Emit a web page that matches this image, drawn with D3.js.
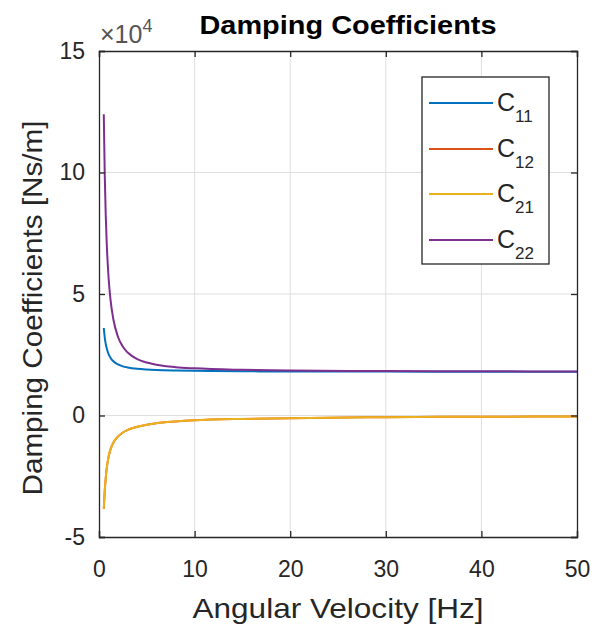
<!DOCTYPE html>
<html>
<head>
<meta charset="utf-8">
<script src="https://cdn.jsdelivr.net/npm/d3@7"></script>
<style>
  html, body { margin: 0; padding: 0; background: #fff; }
  svg { display: block; font-family: "Liberation Sans", Arial, Helvetica, sans-serif; }
</style>
</head>
<body>
<svg id="chart" width="595" height="628"></svg>
<script>
// ---- data (values in Ns/m) ----
const freq = [0.5, 0.6, 0.7, 0.8, 1, 1.2, 1.5, 2, 2.5, 3, 4, 5, 6, 8, 10, 15, 20, 30, 40, 50];
const c11 = [36000, 32200, 29600, 27800, 25300, 23800, 22300, 21000, 20200, 19750, 19200, 18900, 18700, 18500, 18400, 18200, 18100, 18100, 18000, 18000];
const c12 = [-38500, -31000, -26000, -22000, -17000, -14000, -11200, -8600, -7000, -5900, -4600, -3800, -3200, -2500, -2000, -1400, -1100, -700, -500, -400];
const c21 = [-38500, -31000, -26000, -22000, -17000, -14000, -11200, -8600, -7000, -5900, -4600, -3800, -3200, -2500, -2000, -1400, -1100, -700, -500, -400];
const c22 = [124000, 99300, 83100, 71700, 56800, 47800, 39600, 32200, 28300, 25900, 23200, 21800, 20900, 19900, 19400, 18800, 18500, 18300, 18200, 18100];
const seriesNames = ["11", "12", "21", "22"];
const seriesColors = ["#0072BD", "#D95319", "#EDB120", "#7E2F8E"];
const xTicks = [0, 10, 20, 30, 40, 50];
const yTicks = [-50000, 0, 50000, 100000, 150000];
const titleText = "Damping Coefficients";
const xLabel = "Angular Velocity [Hz]";
const yLabel = "Damping Coefficients [Ns/m]";

(function () {
const series = [c11, c12, c21, c22];

const svg = d3.select("#chart");
const L = 99, R = 577, T = 51, B = 537;
const x = d3.scaleLinear().domain([0, 50]).range([L, R]);
const y = d3.scaleLinear().domain([-50000, 150000]).range([B, T]);
const textCol = "#262626";

// grid
const g = svg.append("g");
g.selectAll("line.vg").data(xTicks.slice(1, -1)).join("line")
  .attr("x1", d => x(d)).attr("x2", d => x(d)).attr("y1", T).attr("y2", B)
  .attr("stroke", "#dfdfdf").attr("stroke-width", 1);
g.selectAll("line.hg").data(yTicks.slice(1, -1)).join("line")
  .attr("y1", d => y(d)).attr("y2", d => y(d)).attr("x1", L).attr("x2", R)
  .attr("stroke", "#dfdfdf").attr("stroke-width", 1);

// lines
const line = d3.line().x((d, i) => x(freq[i])).y(d => y(d)).curve(d3.curveMonotoneX);
series.forEach((s, k) => {
  svg.append("path").datum(s).attr("d", line)
    .attr("fill", "none").attr("stroke", seriesColors[k]).attr("stroke-width", 2);
});

// axes (ticks inward on all sides)
const tl = 6;
const axB = d3.axisBottom(x).tickValues(xTicks).tickSize(-tl).tickPadding(24).tickFormat(d3.format("d"));
const axT = d3.axisTop(x).tickValues(xTicks).tickSize(-tl).tickFormat("");
const axL = d3.axisLeft(y).tickValues(yTicks).tickSize(-tl).tickPadding(14).tickFormat(d => d / 10000);
const axR = d3.axisRight(y).tickValues(yTicks).tickSize(-tl).tickFormat("");

function style(sel) {
  sel.selectAll("path.domain").attr("stroke", "#262626").attr("stroke-width", 1.3);
  sel.selectAll(".tick line").attr("stroke", "#262626").attr("stroke-width", 1.3);
  sel.selectAll(".tick text").attr("fill", textCol).style("font-size", "23px")
     .style("font-family", "'Liberation Sans', Arial, sans-serif");
}
svg.append("g").attr("transform", `translate(0,${B})`).call(axB).call(style)
  .selectAll(".tick text").attr("dy", "0.71em");
svg.append("g").attr("transform", `translate(0,${T})`).call(axT).call(style);
svg.append("g").attr("transform", `translate(${L},0)`).call(axL).call(style);
svg.append("g").attr("transform", `translate(${R},0)`).call(axR).call(style);

// exponent
const ex = svg.append("text").attr("x", 100).attr("y", 43).attr("fill", "#555")
  .style("font-size", "25px");
ex.append("tspan").text("×10");
ex.append("tspan").attr("dy", -11).style("font-size", "18px").text("4");

// title
svg.append("text").attr("x", 348).attr("y", 34).attr("text-anchor", "middle")
  .attr("fill", "#000").style("font-weight", "bold").style("font-size", "25px")
  .attr("textLength", 297).attr("lengthAdjust", "spacingAndGlyphs")
  .text(titleText);

// axis labels
svg.append("text").attr("x", 338).attr("y", 618).attr("text-anchor", "middle")
  .attr("fill", textCol).style("font-size", "28px")
  .attr("textLength", 291).attr("lengthAdjust", "spacingAndGlyphs")
  .text(xLabel);
svg.append("text").attr("transform", `translate(42,${(T + B) / 2 + 14}) rotate(-90)`)
  .attr("text-anchor", "middle").attr("fill", textCol).style("font-size", "28px")
  .attr("textLength", 375).attr("lengthAdjust", "spacingAndGlyphs")
  .text(yLabel);

// legend
const lg = svg.append("g");
lg.append("rect").attr("x", 422).attr("y", 77).attr("width", 127).attr("height", 187)
  .attr("fill", "#fff").attr("stroke", "#262626").attr("stroke-width", 1.3);
const legY = [103, 149, 194, 240];
seriesNames.forEach((n, k) => {
  lg.append("line").attr("x1", 429).attr("x2", 493).attr("y1", legY[k]).attr("y2", legY[k])
    .attr("stroke", seriesColors[k]).attr("stroke-width", 2);
  const t = lg.append("text").attr("x", 497).attr("y", legY[k] + 8).attr("fill", textCol)
    .style("font-size", "25px");
  t.append("tspan").text("C");
  t.append("tspan").attr("dy", 11).style("font-size", "17px").text(n);
});
})();
</script>
</body>
</html>
